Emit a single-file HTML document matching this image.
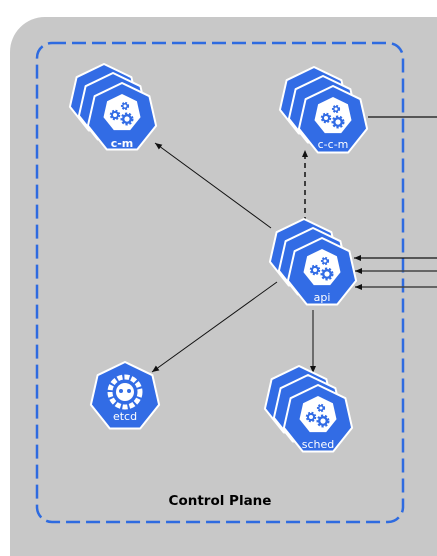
<!DOCTYPE html>
<html><head><meta charset="utf-8"><style>
html,body{margin:0;padding:0;background:#fff;width:437px;height:556px;overflow:hidden}
text{font-family:"DejaVu Sans","Liberation Sans",sans-serif}
</style></head><body>
<svg width="437" height="556" viewBox="0 0 437 556" xmlns="http://www.w3.org/2000/svg">
<defs>
<g id="hex"><polygon points="0,-35 27.4,-21.8 34.1,7.8 15.2,31.5 -15.2,31.5 -34.1,7.8 -27.4,-21.8" fill="#326ce5" stroke="#fff" stroke-width="2" stroke-linejoin="round"/></g>
<g id="icon">
<use href="#hex"/>
<polygon points="0,-24 14.9,-16.8 18.5,-0.8 8.2,12.1 -8.2,12.1 -18.5,-0.8 -14.9,-16.8" fill="#fff"/>
<circle cx="-7" cy="-3" r="4" fill="#326ce5" stroke="#326ce5" stroke-width="2.5" stroke-dasharray="1.8 1.4"/>
<circle cx="-7" cy="-3" r="2" fill="#fff"/>
<circle cx="3" cy="-12" r="3" fill="#326ce5" stroke="#326ce5" stroke-width="2.2" stroke-dasharray="1.6 1.2"/>
<circle cx="3" cy="-12" r="1.5" fill="#fff"/>
<circle cx="5" cy="1" r="5" fill="#326ce5" stroke="#326ce5" stroke-width="3" stroke-dasharray="2 1.6"/>
<circle cx="5" cy="1" r="2.6" fill="#fff"/>
</g>
<marker id="ar" markerWidth="8" markerHeight="8" refX="7" refY="4" orient="auto" markerUnits="userSpaceOnUse"><path d="M0,1 L7,4 L0,7 Z" fill="#111"/></marker>
</defs>
<path d="M45,17 H437 V556 H10 V52 A35,35 0 0 1 45,17 Z" fill="#c8c8c8"/>
<rect x="37" y="43" width="366" height="479" rx="15" fill="none" stroke="#2e6be0" stroke-width="2.5" stroke-dasharray="14 6"/>
<text x="220" y="505" font-size="13.5" font-weight="bold" text-anchor="middle" fill="#000">Control Plane</text>
<line x1="271" y1="228" x2="155" y2="143" stroke="#111" stroke-width="1" marker-end="url(#ar)"/>
<line x1="305" y1="222" x2="305" y2="150" stroke="#111" stroke-width="1.5" stroke-dasharray="5 4" marker-end="url(#ar)"/>
<line x1="277" y1="282" x2="152" y2="372" stroke="#111" stroke-width="1" marker-end="url(#ar)"/>
<line x1="313" y1="310" x2="313" y2="373" stroke="#111" stroke-width="1" marker-end="url(#ar)"/>
<line x1="368" y1="117" x2="437" y2="117" stroke="#111" stroke-width="1.3"/>
<line x1="437" y1="258" x2="354" y2="258" stroke="#111" stroke-width="1.2" marker-end="url(#ar)"/>
<line x1="437" y1="271" x2="355" y2="271" stroke="#444" stroke-width="1.5" marker-end="url(#ar)"/>
<line x1="437" y1="287" x2="355" y2="287" stroke="#444" stroke-width="1.5" marker-end="url(#ar)"/>
<use href="#hex" x="104" y="99"/><use href="#hex" x="113" y="108"/>
<use href="#icon" x="122" y="118"/>
<text x="122" y="147" font-size="11" fill="#fff" text-anchor="middle" font-weight="bold">c-m</text>
<use href="#hex" x="314" y="102"/><use href="#hex" x="323" y="111"/>
<use href="#icon" x="333" y="121"/>
<text x="333" y="148" font-size="11" fill="#fff" text-anchor="middle">c-c-m</text>
<use href="#hex" x="304" y="254"/><use href="#hex" x="313" y="263"/>
<use href="#icon" x="322" y="273"/>
<text x="322" y="301" font-size="11" fill="#fff" text-anchor="middle">api</text>
<use href="#hex" x="125" y="397"/>
<circle cx="125" cy="392" r="15" fill="none" stroke="#fff" stroke-width="5" stroke-dasharray="5 2"/>
<circle cx="125" cy="392" r="9" fill="#fff"/>
<circle cx="121" cy="391" r="2" fill="#326ce5"/><circle cx="129" cy="391" r="2" fill="#326ce5"/>
<text x="125" y="420" font-size="11" fill="#fff" text-anchor="middle">etcd</text>
<use href="#hex" x="299" y="401"/><use href="#hex" x="308" y="410"/>
<use href="#icon" x="318" y="420"/>
<text x="318" y="448" font-size="11" fill="#fff" text-anchor="middle">sched</text>
</svg>
</body></html>
